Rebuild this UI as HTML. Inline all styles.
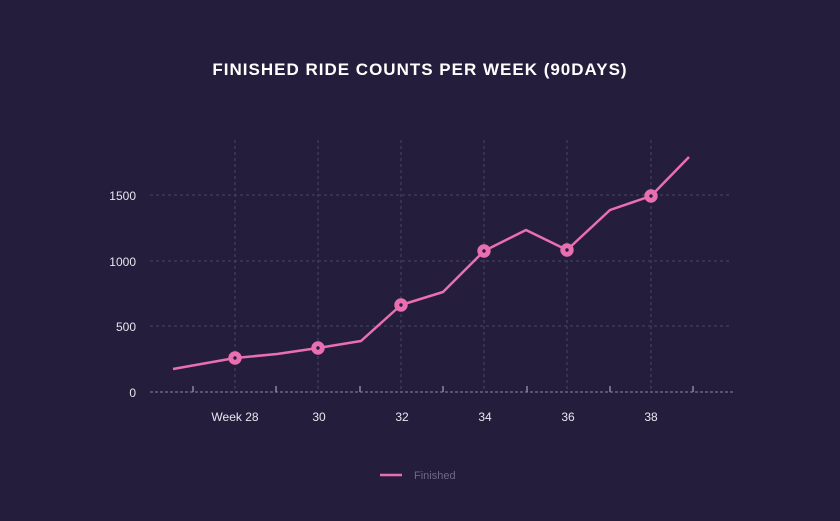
<!DOCTYPE html>
<html><head><style>
html,body{margin:0;padding:0;background:#241e3c;overflow:hidden;}
text{font-family:"Liberation Sans",sans-serif;}
</style></head><body>
<svg width="840" height="521" xmlns="http://www.w3.org/2000/svg" style="display:block">
<rect width="840" height="521" fill="#241e3c"/>
<text x="420" y="75" text-anchor="middle" fill="#fff" font-size="17" font-weight="bold" letter-spacing="1">FINISHED RIDE COUNTS PER WEEK (90DAYS)</text>
<g stroke="#4a4560" stroke-width="1" stroke-dasharray="3,3">
<line x1="150" y1="195" x2="730" y2="195"/>
<line x1="150" y1="261" x2="730" y2="261"/>
<line x1="150" y1="326" x2="730" y2="326"/>
<line x1="235" y1="140" x2="235" y2="392"/>
<line x1="318" y1="140" x2="318" y2="392"/>
<line x1="401" y1="140" x2="401" y2="392"/>
<line x1="484" y1="140" x2="484" y2="392"/>
<line x1="567" y1="140" x2="567" y2="392"/>
<line x1="651" y1="140" x2="651" y2="392"/>
</g>
<line x1="150" y1="392" x2="733" y2="392" stroke="#8a86a0" stroke-width="1" stroke-dasharray="3,2"/>
<g stroke="#8a86a0" stroke-width="1.5">
<line x1="193" y1="386" x2="193" y2="392"/><line x1="276" y1="386" x2="276" y2="392"/>
<line x1="360" y1="386" x2="360" y2="392"/><line x1="443" y1="386" x2="443" y2="392"/>
<line x1="527" y1="386" x2="527" y2="392"/><line x1="610" y1="386" x2="610" y2="392"/>
<line x1="693" y1="386" x2="693" y2="392"/>
</g>
<g fill="#e8e6f0" font-size="12" text-anchor="end">
<text x="136" y="200">1500</text><text x="136" y="266">1000</text>
<text x="136" y="331">500</text><text x="136" y="397">0</text>
</g>
<g fill="#e8e6f0" font-size="12" text-anchor="middle">
<text x="235" y="421">Week 28</text><text x="319" y="421">30</text><text x="402" y="421">32</text>
<text x="485" y="421">34</text><text x="568" y="421">36</text><text x="651" y="421">38</text>
</g>
<polyline fill="none" stroke="#ea6fb0" stroke-width="2.5" stroke-linejoin="round" points="173,369 235,358 277,354 318,348 361,341 401,305 443,292 484,251 526,230 567,250 610,210 651,196 689,157"/>
<g fill="#241e3c" stroke="#ea6fb0" stroke-width="5">
<circle cx="235" cy="358" r="4.2"/><circle cx="318" cy="348" r="4.2"/><circle cx="401" cy="305" r="4.2"/>
<circle cx="484" cy="251" r="4.2"/><circle cx="567" cy="250" r="4.2"/><circle cx="651" cy="196" r="4.2"/>
</g>
<line x1="380" y1="475" x2="402" y2="475" stroke="#ea6fb0" stroke-width="2.5"/>
<text x="414" y="479" fill="#6e6a85" font-size="11">Finished</text>
</svg>
</body></html>
